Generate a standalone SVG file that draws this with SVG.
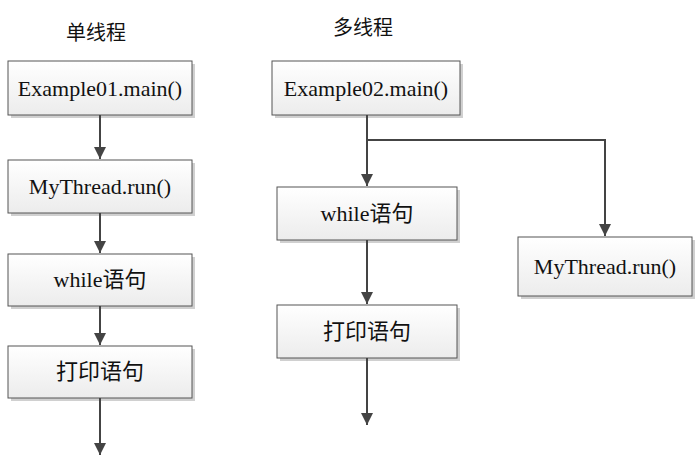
<svg xmlns="http://www.w3.org/2000/svg" width="699" height="476" viewBox="0 0 699 476">
<style>
.b{fill:url(#g);stroke:#555;stroke-width:1}
.s{fill:#d0d0d0}
.t{font-family:"Liberation Serif","Noto Sans CJK SC",serif;font-size:22px;fill:#111;text-anchor:middle}
.h{font-size:20px}
.c{stroke:#444;stroke-width:2;fill:none}
</style>
<defs>
<linearGradient id="g" x1="0" y1="0" x2="0" y2="1"><stop offset="0" stop-color="#ffffff"/><stop offset="1" stop-color="#ececec"/></linearGradient>
<marker id="a" viewBox="0 0 10 10" refX="10" refY="5" markerWidth="6" markerHeight="6" orient="auto" markerUnits="strokeWidth"><path d="M0,0L10,5L0,10z" fill="#444"/></marker>
</defs>
<text class="t h" x="96" y="40">单线程</text>
<text class="t h" x="363" y="35">多线程</text>
<g id="n1"><rect class="s" x="11" y="64" width="184" height="54"/><rect class="b" x="8" y="61" width="184" height="54"/><text class="t" x="100" y="96">Example01.main()</text></g>
<g id="n2"><rect class="s" x="11" y="163" width="184" height="53"/><rect class="b" x="8" y="160" width="184" height="53"/><text class="t" x="100" y="194">MyThread.run()</text></g>
<g id="n3"><rect class="s" x="11" y="257" width="184" height="52"/><rect class="b" x="8" y="254" width="184" height="52"/><text class="t" x="100" y="287">while语句</text></g>
<g id="n4"><rect class="s" x="11" y="349" width="184" height="52"/><rect class="b" x="8" y="346" width="184" height="52"/><text class="t" x="100" y="379">打印语句</text></g>
<g id="m1"><rect class="s" x="275" y="64" width="188" height="54"/><rect class="b" x="272" y="61" width="188" height="54"/><text class="t" x="366" y="96">Example02.main()</text></g>
<g id="m2"><rect class="s" x="280" y="190" width="180" height="53"/><rect class="b" x="277" y="187" width="180" height="53"/><text class="t" x="367" y="221">while语句</text></g>
<g id="m3"><rect class="s" x="280" y="308" width="180" height="53"/><rect class="b" x="277" y="305" width="180" height="53"/><text class="t" x="367" y="339">打印语句</text></g>
<g id="m4"><rect class="s" x="521" y="240" width="174" height="59"/><rect class="b" x="518" y="237" width="174" height="59"/><text class="t" x="605" y="274">MyThread.run()</text></g>
<g id="connectors">
<path class="c" d="M100,115V159" marker-end="url(#a)"/>
<path class="c" d="M100,213V253" marker-end="url(#a)"/>
<path class="c" d="M100,306V345" marker-end="url(#a)"/>
<path class="c" d="M100,398V455" marker-end="url(#a)"/>
<path class="c" d="M367,115V186" marker-end="url(#a)"/>
<path class="c" d="M367,140H605V236" marker-end="url(#a)"/>
<path class="c" d="M367,240V304" marker-end="url(#a)"/>
<path class="c" d="M367,358V425" marker-end="url(#a)"/>
</g>
</svg>
